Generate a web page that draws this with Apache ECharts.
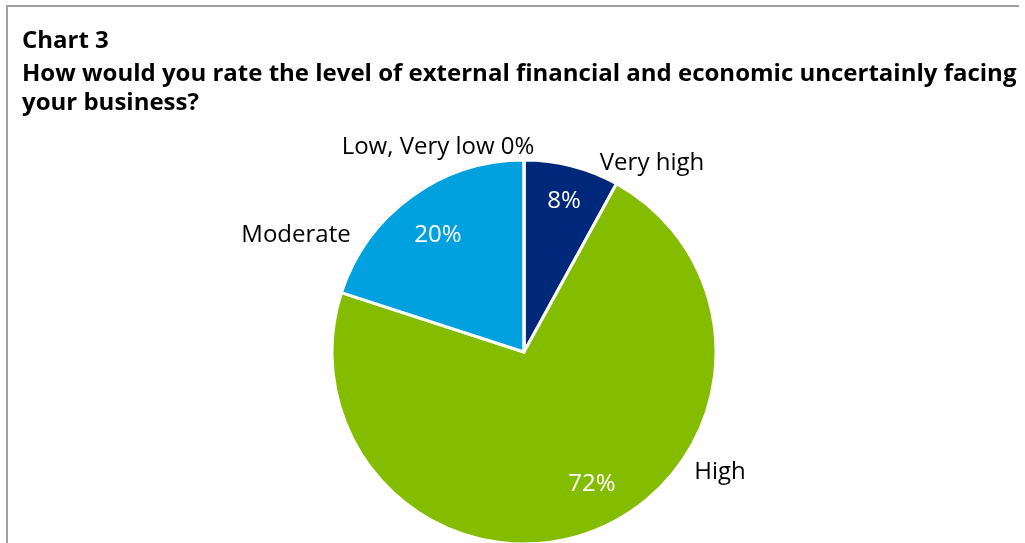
<!DOCTYPE html>
<html>
<head>
<meta charset="utf-8">
<script src="https://cdn.jsdelivr.net/npm/echarts@6/dist/echarts.min.js"></script>
<style>
html,body{margin:0;padding:0;background:#fff;}
#chart{width:1025px;height:543px;}
</style>
</head>
<body>
<div id="chart"></div>
<script>
const categories = ['Very high', 'High', 'Moderate', 'Low, Very low'];
const values = [8, 72, 20, 0];
const colors = ['#00287A', '#84BD00', '#00A1DE', '#7F7F7F'];
const chartLabel = 'Chart 3';
const question = 'How would you rate the level of external financial and economic uncertainly facing\nyour business?';

// label anchor positions (style/layout only)
const namePos = [[652, 163], [720, 472], [296, 235], [438, 147]];
const pctPos = [[564, 201], [592, 484], [438, 235], null];

const chart = echarts.init(document.getElementById('chart'), null, {renderer: 'canvas'});
const font = '"Open Sans", "Noto Sans", sans-serif';

const pieData = categories.map((c, i) => ({name: c, value: values[i], itemStyle: {color: colors[i]}}));

chart.setOption({
  animation: false,
  title: [
    {text: chartLabel, left: 22, top: 28, padding: 0,
     textStyle: {fontFamily: font, fontWeight: 'bold', fontSize: 24, color: '#000', lineHeight: 27}},
    {text: question, left: 22, top: 60, padding: 0,
     textStyle: {fontFamily: font, fontWeight: 'bold', fontSize: 24, color: '#000', lineHeight: 28.5}}
  ],
  graphic: [{
    type: 'polyline', silent: true,
    shape: {points: [[7, 560], [7, 6], [1019, 6]]},
    style: {stroke: '#A0A0A0', lineWidth: 2, fill: null}
  }],
  series: [
    {
      type: 'pie', center: [524, 352], radius: [0, 192],
      startAngle: 90, clockwise: true, avoidLabelOverlap: false,
      itemStyle: {borderColor: '#fff', borderWidth: 3},
      label: {
        show: true, position: 'inside', color: '#fff',
        fontFamily: font, fontSize: 24,
        formatter: p => p.value + '%'
      },
      labelLayout: p => pctPos[p.dataIndex]
        ? {x: pctPos[p.dataIndex][0], y: pctPos[p.dataIndex][1], align: 'center', verticalAlign: 'middle'}
        : {x: -1000, y: -1000},
      labelLine: {show: false},
      emphasis: {disabled: true},
      data: pieData
    },
    {
      type: 'pie', center: [524, 352], radius: [0, 192],
      startAngle: 90, clockwise: true, avoidLabelOverlap: false, silent: true,
      itemStyle: {color: 'rgba(0,0,0,0)', borderWidth: 0},
      label: {
        show: true, position: 'outside', color: '#000',
        fontFamily: font, fontSize: 24,
        formatter: p => p.value === 0 ? p.name + ' ' + p.value + '%' : p.name
      },
      labelLayout: p => ({x: namePos[p.dataIndex][0], y: namePos[p.dataIndex][1], align: 'center', verticalAlign: 'middle'}),
      labelLine: {show: false},
      emphasis: {disabled: true},
      data: categories.map((c, i) => ({name: c, value: values[i]}))
    }
  ]
});
</script>
</body>
</html>
